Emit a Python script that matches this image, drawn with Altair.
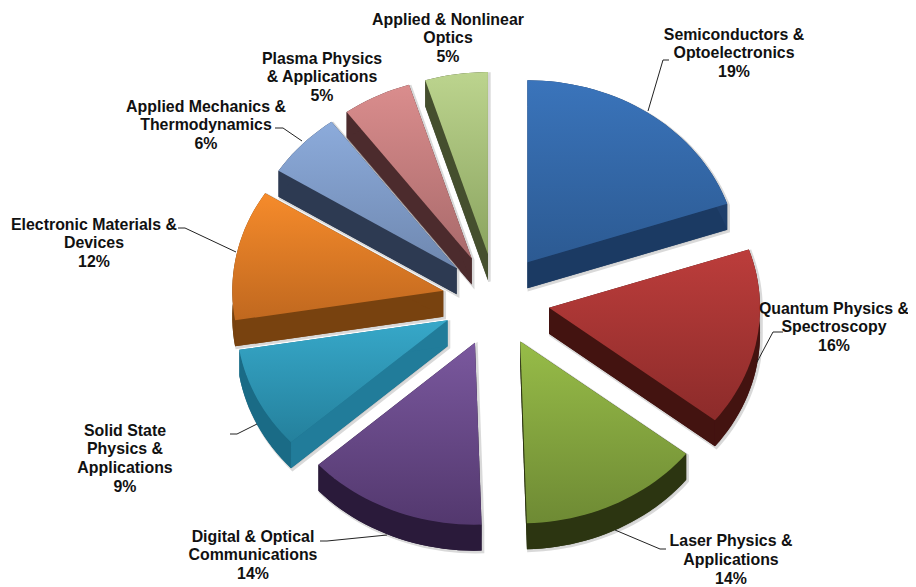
import math
import altair as alt
import pandas as pd

categories = ["Semiconductors & Optoelectronics", "Quantum Physics & Spectroscopy",
              "Laser Physics & Applications", "Digital & Optical Communications",
              "Solid State Physics & Applications", "Electronic Materials & Devices",
              "Applied Mechanics & Thermodynamics", "Plasma Physics & Applications",
              "Applied & Nonlinear Optics"]
values = [19.8, 15.8, 13.9, 13.8, 9.1, 11.6, 5.9, 5.3, 4.8]
label_text = ["Semiconductors &\nOptoelectronics\n19%", "Quantum Physics &\nSpectroscopy\n16%",
              "Laser Physics &\nApplications\n14%", "Digital & Optical\nCommunications\n14%",
              "Solid  State\nPhysics &\nApplications\n9%", "Electronic Materials &\nDevices\n12%",
              "Applied Mechanics &\nThermodynamics\n6%", "Plasma Physics\n& Applications\n5%",
              "Applied  & Nonlinear\nOptics\n5%"]
top_light = ["#3a74bb", "#bc3d3b", "#97bc48", "#7a589e", "#37a8c9", "#f68b2b", "#8cabdb", "#da8d8d", "#bcd48e"]
top_dark = ["#2c5a92", "#8c2b2a", "#6e8a34", "#53386e", "#24809c", "#c0681f", "#6f88b0", "#a96a6b", "#8ba460"]
wall_colors = ["#1b3a63", "#431310", "#2c3511", "#241631", "#217c9a", "#78420f", "#2d3a52", "#4c2b2d", "#454f2e"]
rim_colors = ["#1f3f6b", "#431310", "#2c3511", "#2a1a3a", "#1a6b86", "#78420f", "#2d3a52", "#4c2b2d", "#454f2e"]

# pie layout, in page pixels
CX, CY, RX, RY, EXPLODE, DEPTH = 496, 300, 211, 182, 0.255, 26
label_anchor = [(734, 34.5), (834, 308.5), (731, 541), (253, 536.5), (125, 430.5), (94, 224.5), (206, 106.5), (322, 58.5), (448, 19.5)]
leaders = [[(648, 111), (663, 60), (669, 60)],
           [(757, 362), (773, 332), (783, 332)],
           [(615, 530), (660, 549), (666, 549)],
           [(387, 535), (327, 541), (320, 541)],
           [(257, 424), (237, 434), (230, 434)],
           [(236, 252), (185, 228), (178, 228)],
           [(302, 141), (283, 128), (275, 128)]]
draw_order = [8, 7, 6, 5, 0, 4, 1, 3, 2]
W, H = 900, 579
xs = alt.Scale(domain=[8, 8 + W], range=[0, W])
ys = alt.Scale(domain=[8 + H, 8], range=[H, 0])


def polygon(points, fill, stroke=None, width=0, opacity=1):
    df = pd.DataFrame({"px": [p[0] for p in points], "py": [p[1] for p in points], "i": range(len(points))})
    kw = {"stroke": stroke} if stroke else {"stroke": None}
    return alt.Chart(df).mark_line(fill=fill, strokeWidth=width, opacity=opacity, interpolate="linear", **kw).encode(
        x=alt.X("px:Q", scale=xs, axis=None), y=alt.Y("py:Q", scale=ys, axis=None), order="i:Q")


def hull(points):
    pts = sorted(set(points))
    def half(seq):
        out = []
        for p in seq:
            while len(out) > 1 and (out[-1][0] - out[-2][0]) * (p[1] - out[-2][1]) - (out[-1][1] - out[-2][1]) * (p[0] - out[-2][0]) <= 0:
                out.pop()
            out.append(p)
        return out[:-1]
    h = half(pts) + half(pts[::-1])
    return h + [h[0]]


def pt(turn, ox, oy, dy=0):
    t = 2 * math.pi * turn
    return (ox + RX * math.sin(t), oy - RY * math.cos(t) + dy)


layers = []
total = sum(values)
starts = [sum(values[:i]) / total for i in range(len(values))]
for k in draw_order:
    s, v = starts[k], values[k] / total
    mid = s + v / 2
    ox = CX + EXPLODE * RX * math.sin(2 * math.pi * mid)
    oy = CY - EXPLODE * RY * math.cos(2 * math.pi * mid)
    n = max(8, int(v * 180))
    turns = [s + v * j / n for j in range(n + 1)]
    arc = [pt(t, ox, oy) for t in turns]
    arc_low = [pt(t, ox, oy, DEPTH) for t in turns]
    apex, apex_low = (ox, oy), (ox, oy + DEPTH)
    shadow = [(p[0] + 1.5, p[1] + 1.5) for p in hull(arc + arc_low + [apex, apex_low])]
    layers.append(polygon(shadow, "#999999", "#bbbbbb", 2.5, 0.55))
    layers.append(polygon([apex_low] + arc_low + [apex_low], rim_colors[k]))
    layers.append(polygon([apex, arc[0], arc_low[0], apex_low, apex], wall_colors[k]))
    layers.append(polygon([apex, arc[-1], arc_low[-1], apex_low, apex], wall_colors[k]))
    layers.append(polygon(arc + arc_low[::-1] + [arc[0]], rim_colors[k]))
    grad = alt.LinearGradient(gradient="linear", x1=0, y1=0, x2=0, y2=1,
                              stops=[alt.GradientStop(offset=0, color=top_light[k]),
                                     alt.GradientStop(offset=1, color=top_dark[k])])
    layers.append(polygon([apex] + arc + [apex], grad))

for path in leaders:
    df = pd.DataFrame({"px": [p[0] for p in path], "py": [p[1] for p in path], "i": range(len(path))})
    layers.append(alt.Chart(df).mark_line(color="#222222", strokeWidth=1).encode(
        x=alt.X("px:Q", scale=xs, axis=None), y=alt.Y("py:Q", scale=ys, axis=None), order="i:Q"))

rows = []
for txt, (ax, ay) in zip(label_text, label_anchor):
    for j, line in enumerate(txt.split("\n")):
        rows.append({"px": ax, "py": ay + j * 18.8, "t": line})
labels = alt.Chart(pd.DataFrame(rows)).mark_text(
    font="Liberation Sans", fontWeight="bold", fontSize=15.9, color="#111111", align="center", baseline="middle"
).encode(x=alt.X("px:Q", scale=xs, axis=None), y=alt.Y("py:Q", scale=ys, axis=None), text="t:N")
layers.append(labels)

chart = alt.layer(*layers).properties(
    width=W, height=H, padding=0, background="white", autosize=alt.AutoSizeParams(type="none")
).configure_view(stroke=None)
chart.save("out.html", embed_options={"renderer": "svg", "actions": False})
